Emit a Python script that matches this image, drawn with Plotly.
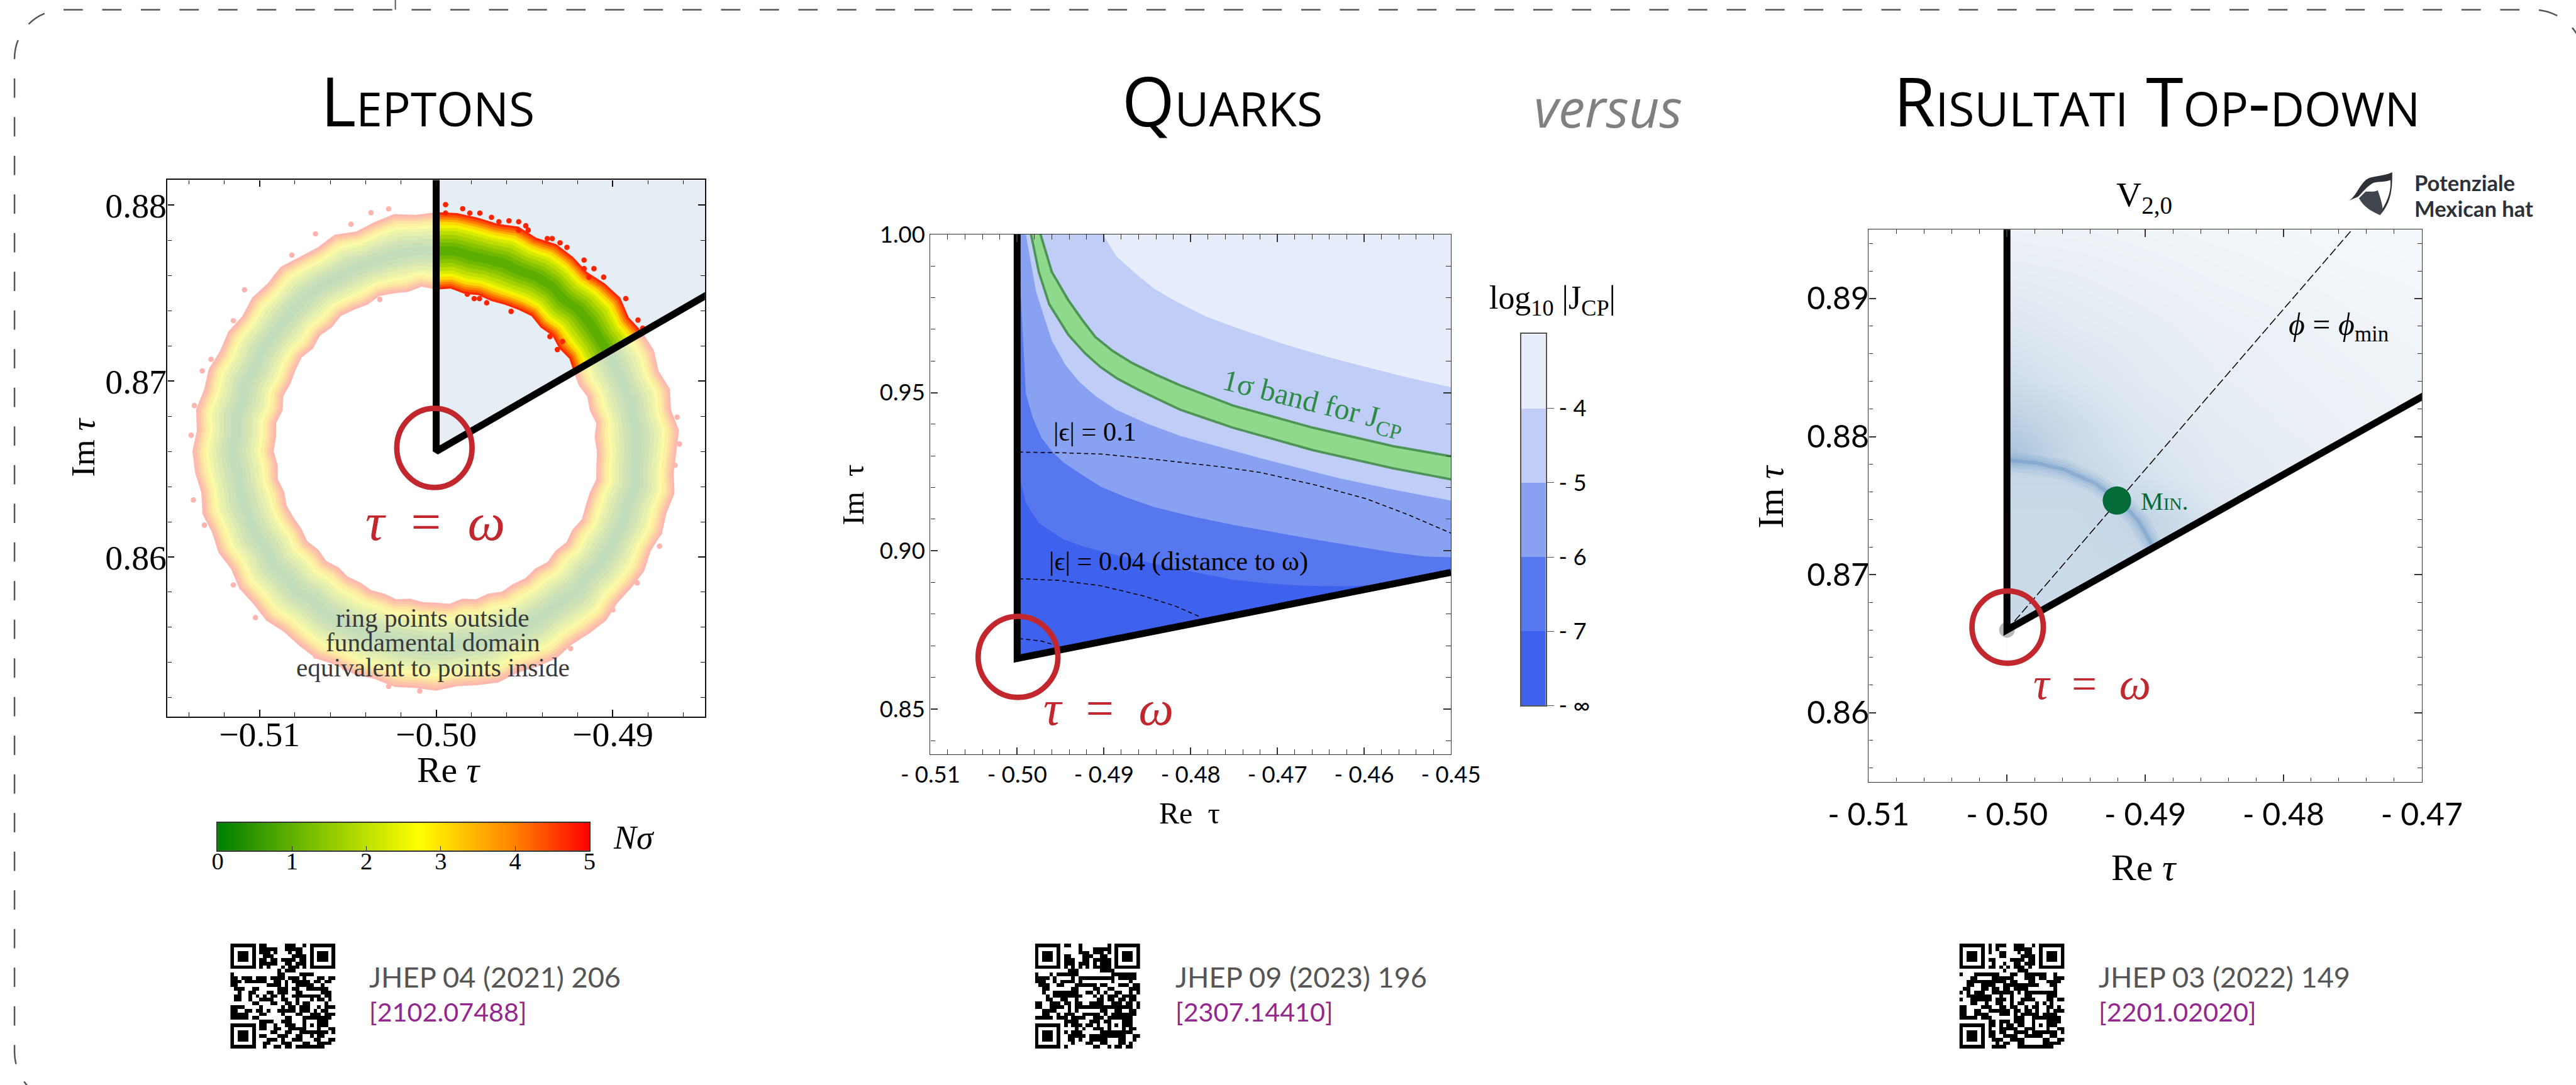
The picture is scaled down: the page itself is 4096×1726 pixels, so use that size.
import math
import plotly.graph_objects as go

S = 0.961
W0, H0 = 4261, 1796

# ---------- data: panel 1 (Leptons) ----------
OMEGA = (-0.5, 0.866)
P1_XTICKS = [-0.51, -0.50, -0.49]
P1_XLABELS = ["\u22120.51", "\u22120.50", "\u22120.49"]
P1_YTICKS = [0.86, 0.87, 0.88]
P1_YLABELS = ["0.86", "0.87", "0.88"]
RING_ANGLES = list(range(0, 360, 5))
RING_OUTER = [.0136,.0138,.0135,.0137,.0134,.0136,.0135,.0133,.0136,.0135,.0133,.0135,
              .0136,.0134,.0136,.0134,.0135,.0136,.0136,.0135,.0137,.0135,.0133,.0136,
              .0134,.0135,.0137,.0135,.0136,.0134,.0136,.0135,.0137,.0136,.0138,.0136,
              .0138,.0137,.0135,.0137,.0135,.0136,.0134,.0136,.0135,.0136,.0134,.0135,
              .0136,.0134,.0135,.0134,.0136,.0135,.0136,.0134,.0135,.0136,.0134,.0135,
              .0136,.0134,.0135,.0136,.0134,.0135,.0136,.0134,.0136,.0135,.0137,.0135]
RING_INNER = [.0091,.0090,.0092,.0090,.0091,.0089,.0090,.0092,.0091,.0093,.0092,.0094,
              .0093,.0092,.0091,.0092,.0091,.0093,.0092,.0094,.0092,.0093,.0094,.0092,
              .0093,.0094,.0092,.0093,.0091,.0093,.0092,.0091,.0092,.0090,.0092,.0091,
              .0092,.0090,.0091,.0089,.0090,.0089,.0088,.0089,.0087,.0088,.0086,.0087,
              .0086,.0087,.0086,.0087,.0085,.0086,.0086,.0087,.0085,.0087,.0086,.0088,
              .0087,.0088,.0087,.0089,.0088,.0090,.0089,.0091,.0090,.0090,.0092,.0091]
RING_LEVELS = [1.0, .94, .88, .82, .76, .68, .60, .52, .42, .32, .22, .12]
STRAY_X_IN = [-.49947,-.4985,-.4981,-.49947,-.49753,-.49687,-.49645,-.49588,-.49533,-.49493,-.49533,
              -.49479,-.49371,-.49343,-.49299,-.4926,-.49163,-.49163,-.49107,-.49135,-.49052,-.48927,
              -.48858,-.48831,-.49824,-.49785,-.49755,-.49714,-.49576,-.49314,-.49285,-.49356]
STRAY_Y_IN = [.88003,.8798,.87955,.87955,.87955,.87931,.87906,.87911,.87906,.87883,.87858,
              .87858,.8781,.8781,.87786,.8776,.87688,.87639,.87639,.87591,.87591,.87469,
              .87347,.87301,.87494,.87469,.87469,.87445,.87396,.87179,.87225,.87253]
STRAY_X_OUT = [-.51374,-.51387,-.51369,-.51324,-.51274,-.51148,-.51085,-.50817,-.50683,-.50482,-.50369,
               -.50269,-.48623,-.48648,-.48636,-.48736,-.48736,-.48862,-.49,-.49239,-.50093,-.50269,
               -.5052,-.50683,-.51023,-.51148,-.51312,-.50696,-.50495,-.50319,-.50696,-.50859,-.50935,
               -.50947,-.49126,-.49075,-.49289,-.4954,-.50357]
STRAY_Y_OUT = [.86324,.86692,.86861,.87058,.87124,.87343,.87519,.87716,.87837,.87892,.87957,
               .87979,.86642,.86521,.86795,.86137,.86061,.85852,.85699,.85479,.85238,.85264,
               .8537,.85436,.85655,.85841,.86181,.86006,.85863,.87464,.87365,.87014,.8662,
               .86444,.86324,.866,.8594,.85819,.85754]
NSIGMA_TICKS = [0, 1, 2, 3, 4, 5]
NSIGMA_VALUES = [0, .25, .5, .75, 1, 1.25, 1.5, 1.75, 2, 2.25, 2.5, 2.75, 3, 3.25, 3.5, 3.75, 4, 4.25, 4.5, 4.75, 5]

# ---------- data: panel 2 (Quarks) ----------
P2_XTICKS = [-0.51, -0.50, -0.49, -0.48, -0.47, -0.46, -0.45]
P2_XLABELS = ["- 0.51", "- 0.50", "- 0.49", "- 0.48", "- 0.47", "- 0.46", "- 0.45"]
P2_YTICKS = [0.85, 0.90, 0.95, 1.00]
P2_YLABELS = ["0.85", "0.90", "0.95", "1.00"]
C1_X = [-.4901,-.4886,-.4865,-.4843,-.4815,-.4782,-.4740,-.4690,-.4645,-.4598,-.4550,-.45]
C1_Y = [1.0,.9932,.9880,.9830,.9785,.9740,.9698,.9651,.9615,.9581,.9548,.9517]
C2_X = [-.4990,-.4978,-.4960,-.4945,-.4929,-.4910,-.4886,-.4850,-.4812,-.4720,-.4628,-.4565,-.45]
C2_Y = [1.0,.9817,.9664,.9590,.9536,.9490,.9446,.9402,.9363,.9293,.9229,.9193,.9159]
C3_X = [-.4998,-.4996,-.4990,-.4982,-.4972,-.4960,-.4947,-.4925,-.4904,-.4875,-.4843,-.4800,-.4751,-.4659,-.4567,-.4530,-.45]
C3_Y = [1.0,.9817,.9497,.9420,.9357,.9315,.9280,.9240,.9203,.9170,.9139,.9110,.9082,.9037,.8995,.8982,.8980]
C4_X = [-.4998,-.4990,-.4975,-.4960,-.4947,-.4925,-.4904,-.4875,-.4843,-.4800,-.4751,-.4710,-.4671,-.4620,-.4560]
C4_Y = [.9242,.9152,.9088,.9060,.9037,.9015,.8999,.8980,.8960,.8935,.8909,.8897,.8890,.8888,.8898]
GREEN_UP_X = [-.4973,-.4960,-.4941,-.4925,-.4910,-.4890,-.4867,-.4840,-.4812,-.4780,-.4751,-.4659,-.4567,-.45]
GREEN_UP_Y = [1.0,.9881,.9792,.9730,.9676,.9632,.9593,.9557,.9523,.9490,.9459,.9389,.9331,.9299]
GREEN_LO_X = [-.4984,-.4975,-.4963,-.4941,-.4922,-.4904,-.4885,-.4861,-.4835,-.4812,-.4780,-.4751,-.4659,-.4567,-.45]
GREEN_LO_Y = [1.0,.9881,.9779,.9683,.9625,.9581,.9545,.9510,.9476,.9446,.9416,.9389,.9318,.9261,.9226]
EPS1_X = [-.4998,-.4950,-.4904,-.4858,-.4812,-.4766,-.4720,-.4659,-.4598,-.4549,-.45]
EPS1_Y = [.9312,.9310,.9306,.9294,.9280,.9266,.9248,.9210,.9165,.9114,.9056]
EPS2_X = [-.4998,-.4953,-.4904,-.4855,-.4818,-.4788]
EPS2_Y = [.8912,.8907,.8890,.8858,.8826,.8790]
EPS3_X = [-.4998,-.4972,-.4960]
EPS3_Y = [.8723,.8715,.8705]
P2_LINE_END = (-0.45, 0.8932)
JCP_LEVELS = [-7.5, -6.5, -5.5, -4.5, -3.5]
JCP_TICKS = [-8, -7, -6, -5, -4]
JCP_LABELS = ["- \u221e", "- 7", "- 6", "- 5", "- 4"]

# ---------- data: panel 3 (Top-down) ----------
P3_XTICKS = [-0.51, -0.50, -0.49, -0.48, -0.47]
P3_XLABELS = ["- 0.51", "- 0.50", "- 0.49", "- 0.48", "- 0.47"]
P3_YTICKS = [0.86, 0.87, 0.88, 0.89]
P3_YLABELS = ["0.86", "0.87", "0.88", "0.89"]
V_X = [-.5, -.495, -.49, -.485, -.48, -.475, -.47]
V_Y = [.866, .870, .874, .877, .879, .881, .884, .888, .892, .895]
V_Z = [[.50,.45,.40,.30,.20,.15,.10],
       [.45,.45,.45,.35,.25,.20,.12],
       [.45,.45,.55,.30,.20,.15,.12],
       [.50,.50,.35,.22,.17,.14,.10],
       [.85,.45,.30,.20,.16,.12,.10],
       [.65,.42,.26,.18,.14,.11,.09],
       [.42,.30,.20,.15,.12,.10,.07],
       [.27,.20,.16,.12,.10,.07,.05],
       [.16,.14,.11,.08,.06,.04,.03],
       [.10,.09,.07,.05,.04,.02,.01]]
ARC_X = [-.5,-.4979,-.4958,-.4936,-.4918,-.4905,-.4897,-.4893]
ARC_Y = [.8783,.8781,.8776,.8766,.8753,.8739,.8725,.8718]
PHI_END = (-.47504, .895)
MIN_POINT = (-.49205, .87537)
P3_LINE_END = (-.4698, .8830)

# ---------- data: QR codes ----------
QR1 = ["11111110110000011100101111111","10000010111110011111001000001","10111010111010001011001011101",
"10111010011100000111101011101","10111010110110111101101011101","10000010111110011011101000001",
"11111110101000101110101111111","00000000000001011100000000000","10000000000001100001111000000",
"11011101110111101110100011011","11101111110011010111110110110","11000000001111010011111001000",
"01110011000001110110011111100","00100110001101110011000001110","01100101010110100111111110110",
"01100100111100110010001011010","00000011000110011010110000100","11110000100000101101110010111",
"11001101101001111101110101100","11111000110000100011001110111","11111011000000011000111111110",
"00000000111100111000100011100","11111110110010011100101011100","10000010110011001111100010011",
"10111010000110011001111111101","10111010110001110011001011000","10111010001110100111000110011",
"10000010011000111000110011110","11111110010011011011111111000"]
QR2 = ["11111110110010000000101111111","10000010000010001111101000001","10111010000011101110101011101",
"10111010110001110011001011101","10111010111001101111101011101","10000010111011101011101000001",
"11111110101010101111101111111","00000000011100000011110000000","10001011111100000000011111110",
"11110100001011111111110111110","11100101111010000000010000100","01110011000111111011000111011",
"00110000001100001100110000111","00100111111100110101001100101","00010111111110001010111011110",
"00011001100100000110110110110","11001110110110011110011101101","11001111010111111111111111101",
"00111100010100000011001100110","00110010111001111101011111110","11111011101111001110111111100",
"00000000111100011101100011100","11111110101110110100101011100","10000010000101001110100010110",
"10111010101110000011111111100","10111010011111011111111110011","10111010011010011111000110010",
"10000010001000110011000110100","11111110100000001100101101100"]
QR3 = ["11111110101110011100101111111","10000010101000011111001000001","10111010100110001011001011101",
"10111010000110000111101011101","10111010110000111101101011101","10000010010010011011101000001",
"11111110110101011101001111111","00000000000010001110000000000","10001111111000110011111100100",
"00011000011111100011101100111","00111111111110110001100011110","00110011110011111111110001100",
"01100011011011011110000000100","10101110011111101011111111100","00111111100100100011000011100",
"10011111101110100111100011011","00011001001100101100010101000","11000011100110110010110011010",
"11001100111111011011010010111","11001111000111010111110111100","11111011100000011100111111110",
"00000000110111011100100011110","11111110110101101100101011100","10000010100111110011100010011",
"10111010110110011110111111101","10111010110011110011111001100","10111010011100111100000110011",
"10000010001011001100000111110","11111110011110001111111111000"]

# ---------- styling ----------
RED = "#c1272d"
SERIF = "Liberation Serif"
SANS = "Lato"
TITLE_FONT = "Open Sans"
OUT_COLORS = ["#fdb9ae", "#fdc4ab", "#fdd3a6", "#fde3a2", "#fcf0a3", "#fbfaa8", "#f1f5aa", "#e5efae", "#dbe9b2", "#d2e4b5", "#cbe0b8", "#c3dcba"]
IN_COLORS = ["#ff2a00", "#ff5400", "#ff8000", "#ffaa00", "#ffd800", "#f4f400", "#d8ea00", "#bede00", "#a2d000", "#88c400", "#72b800", "#5cae00"]
JCP_COLORS = ["#3e62ed", "#5677ee", "#88a1f1", "#bfcdf7", "#e8edfb"]
INK = "#3a3a3a"
THICK = 11.5


def px(v):
    return v * S


def fx(x):
    return x / W0


def fy(y):
    return 1 - y / H0


fig = go.Figure()
annotations = []
shapes = []


def note(text, x, y, size, color="#000000", family=SERIF, angle=0, xanchor="center", yanchor="middle", **font):
    annotations.append(dict(text=text, x=fx(x), y=fy(y), xref="paper", yref="paper", showarrow=False,
                            xanchor=xanchor, yanchor=yanchor, textangle=angle, align="left",
                            borderpad=0, font=dict(size=px(size), color=color, family=family, **font)))


def box_axes(n, left, right, top, bottom, xr, yr, xt, xl, yt, yl, minor_x, minor_y, font, size, lw, lc, mj, mn,
             xoff=0, yoff=0):
    tf = dict(size=px(size), family=font, color="#000000")
    common = dict(showgrid=False, zeroline=False, showline=True, linewidth=px(lw), linecolor=lc, automargin=False,
                  mirror="allticks", ticks="inside", ticklen=px(mj), tickwidth=px(1.6), tickcolor=lc,
                  tickfont=tf, tickmode="array")
    fig.layout["xaxis" + n] = dict(common, domain=[fx(left), fx(right)], range=xr, anchor="y" + n,
                                   tickvals=xt, ticktext=xl, ticklabelstandoff=int(round(px(xoff))),
                                   minor=dict(ticks="inside", ticklen=px(mn), tickwidth=px(1.2), tickcolor=lc,
                                              tick0=-0.5, dtick=minor_x, showgrid=False))
    fig.layout["yaxis" + n] = dict(common, domain=[fy(bottom), fy(top)], range=yr, anchor="x" + n,
                                   tickvals=yt, ticktext=yl, ticklabelstandoff=int(round(px(yoff))),
                                   minor=dict(ticks="inside", ticklen=px(mn), tickwidth=px(1.2), tickcolor=lc,
                                              tick0=0.86, dtick=minor_y, showgrid=False))


def plain_axes(n, left, right, top, bottom, xr, yr):
    off = dict(visible=False, showgrid=False, zeroline=False, automargin=False)
    fig.layout["xaxis" + n] = dict(off, domain=[fx(left), fx(right)], range=xr, anchor="y" + n)
    fig.layout["yaxis" + n] = dict(off, domain=[fy(bottom), fy(top)], range=yr, anchor="x" + n)


def poly(xs, ys, color, n, line=None, clip=True):
    fig.add_trace(go.Scatter(x=xs, y=ys, mode="lines", fill="toself", fillcolor=color,
                             line=line or dict(width=0, color=color), xaxis="x" + n, yaxis="y" + n,
                             showlegend=False, hoverinfo="skip", cliponaxis=clip))


def line(xs, ys, n, color="#000000", width=10, dash=None, clip=True, opacity=1.0):
    fig.add_trace(go.Scatter(x=xs, y=ys, mode="lines", opacity=opacity,
                             line=dict(color=color, width=px(width), dash=dash), xaxis="x" + n, yaxis="y" + n,
                             showlegend=False, hoverinfo="skip", cliponaxis=clip))


def ring_poly(level, angles, outer, inner):
    rc = [(a + b) / 2 for a, b in zip(outer, inner)]
    ro = [c + level * (a - c) for a, c in zip(outer, rc)]
    ri = [c - level * (a - c) for a, c in zip(outer, rc)]
    xs = [OMEGA[0] + r * math.cos(math.radians(t)) for r, t in zip(ro, angles)]
    ys = [OMEGA[1] + r * math.sin(math.radians(t)) for r, t in zip(ro, angles)]
    xs += [OMEGA[0] + r * math.cos(math.radians(t)) for r, t in zip(ri[::-1], angles[::-1])]
    ys += [OMEGA[1] + r * math.sin(math.radians(t)) for r, t in zip(ri[::-1], angles[::-1])]
    return xs, ys


def red_circle(n, cx, cy, rx, ry, width):
    shapes.append(dict(type="circle", xref="x" + n, yref="y" + n, x0=cx - rx, x1=cx + rx, y0=cy - ry, y1=cy + ry,
                       line=dict(color=RED, width=px(width)), layer="above"))


# ---------- panel 1 ----------
box_axes("", 277, 1166, 298, 1186, [-0.51521, -0.48479], [0.85093, 0.88143],
         P1_XTICKS, P1_XLABELS, P1_YTICKS, P1_YLABELS, 0.002, 0.002, SERIF, 58, 2.6, "#111111", 11, 7,
         xoff=-23, yoff=-13)
poly([OMEGA[0], -0.5, -0.48479, -0.48479], [OMEGA[1], 0.88143, 0.88143, 0.87496], "#e6eef5", "")
angles_full = RING_ANGLES + [360]
outer_full = RING_OUTER + RING_OUTER[:1]
inner_full = RING_INNER + RING_INNER[:1]
fig.add_trace(go.Scatter(x=STRAY_X_OUT, y=STRAY_Y_OUT, mode="markers", showlegend=False, hoverinfo="skip",
                         marker=dict(size=px(9), color="#fdb5ae", line=dict(width=0))))
for lev, col in zip(RING_LEVELS, OUT_COLORS):
    xs, ys = ring_poly(lev, angles_full, outer_full, inner_full)
    poly(xs, ys, col, "")
i0, i1 = RING_ANGLES.index(30), RING_ANGLES.index(90)
for lev, col in zip(RING_LEVELS, IN_COLORS):
    xs, ys = ring_poly(lev, RING_ANGLES[i0:i1 + 1], RING_OUTER[i0:i1 + 1], RING_INNER[i0:i1 + 1])
    poly(xs, ys, col, "")
fig.add_trace(go.Scatter(x=STRAY_X_IN, y=STRAY_Y_IN, mode="markers", showlegend=False, hoverinfo="skip",
                         marker=dict(size=px(9), color="#ff2400", line=dict(width=0))))
line([-0.5, OMEGA[0], -0.48457], [0.8815, OMEGA[1], 0.87496], "", width=THICK, clip=False)
red_circle("", -0.5001, 0.8662, 0.00213, 0.00225, 9)
note("<i>\u03c4</i>  =  <i>\u03c9</i>", 720, 864, 88, RED)
note("ring points outside", 716, 1023, 43, INK)
note("fundamental domain", 716, 1063, 43, INK)
note("equivalent to points inside", 716, 1105, 43, INK)
note("Im<i> \u03c4</i>", 137, 741, 56, angle=-90)
note("Re<i> \u03c4</i>", 742, 1274, 60)
note("<i>N\u03c3</i>", 1013, 1386, 56, xanchor="left")

# N-sigma bar
fig.layout["xaxis4"] = dict(domain=[fx(360), fx(975)], range=[0, 5], anchor="y4", showgrid=False, zeroline=False,
                            showline=True, mirror=True, linewidth=px(2), linecolor="#333333", ticks="inside",
                            ticklen=px(7), tickwidth=px(1.5), tickcolor="#333333", tickmode="array", automargin=False,
                            tickvals=NSIGMA_TICKS, ticktext=[str(v) for v in NSIGMA_TICKS], ticklabelstandoff=-18,
                            tickfont=dict(size=px(40), family=SERIF, color="#000000"))
fig.layout["yaxis4"] = dict(domain=[fy(1408), fy(1362)], range=[0, 1], anchor="x4", showgrid=False, zeroline=False,
                            showline=True, mirror=True, linewidth=px(2), linecolor="#333333", showticklabels=False,
                            ticks="", automargin=False)
fig.add_trace(go.Heatmap(x=NSIGMA_VALUES, y=[0.5], z=[NSIGMA_VALUES], xaxis="x4", yaxis="y4", zmin=0, zmax=5,
                         showscale=False, hoverinfo="skip", zsmooth="best",
                         colorscale=[[0, "#007f00"], [.25, "#79bf00"], [.54, "#ffff00"], [.8, "#ff8000"], [1, "#ff0000"]]))

# ---------- panel 2 ----------
box_axes("2", 1539, 2400, 388, 1249, [-0.51, -0.45], [0.83564, 1.0],
         P2_XTICKS, P2_XLABELS, P2_YTICKS, P2_YLABELS, 0.002, 0.01, SANS, 38, 1.5, "#333333", 12, 8)
poly([OMEGA[0], -0.5, -0.45, P2_LINE_END[0]], [OMEGA[1], 1.0, 1.0, P2_LINE_END[1]], JCP_COLORS[4], "2")
poly([-0.5] + C1_X + [P2_LINE_END[0], OMEGA[0]], [1.0] + C1_Y + [P2_LINE_END[1], OMEGA[1]], JCP_COLORS[3], "2")
poly([-0.5] + C2_X + [P2_LINE_END[0], OMEGA[0]], [1.0] + C2_Y + [P2_LINE_END[1], OMEGA[1]], JCP_COLORS[2], "2")
poly([-0.5] + C3_X + [P2_LINE_END[0], OMEGA[0]], [1.0] + C3_Y + [P2_LINE_END[1], OMEGA[1]], JCP_COLORS[1], "2")
poly([-0.5] + C4_X + [OMEGA[0]], [C4_Y[0]] + C4_Y + [OMEGA[1]], JCP_COLORS[0], "2")
poly(GREEN_UP_X + GREEN_LO_X[::-1], GREEN_UP_Y + GREEN_LO_Y[::-1], "#8fd98c", "2")
line(GREEN_UP_X, GREEN_UP_Y, "2", color="#4f9457", width=4)
line(GREEN_LO_X, GREEN_LO_Y, "2", color="#4f9457", width=4)
dashes = "%.1fpx,%.1fpx" % (px(7), px(5))
line(EPS1_X, EPS1_Y, "2", width=1.6, dash=dashes)
line(EPS2_X, EPS2_Y, "2", width=1.6, dash=dashes)
line(EPS3_X, EPS3_Y, "2", width=1.6, dash=dashes)
line([-0.5, OMEGA[0], P2_LINE_END[0]], [1.0005, OMEGA[1], P2_LINE_END[1]], "2", width=THICK, clip=False)
red_circle("2", -0.4999, 0.8665, 0.0046, 0.0128, 9)
note("<i>\u03c4</i>  =  <i>\u03c9</i>", 1833, 1172, 82, RED)
note("1\u03c3 band for J<sub>CP</sub>", 2172, 668, 50, "#2e8b45", angle=14)
note("|\u03f5| = 0.1", 1741, 714, 44, xanchor="left")
note("|\u03f5| = 0.04 (distance to \u03c9)", 1734, 929, 44, xanchor="left")
note("Im  \u03c4", 1411, 819, 50, angle=-90)
note("Re  \u03c4", 1968, 1346, 50)
note("log<sub>10</sub> |J<sub>CP</sub>|", 2568, 497, 54)

# J_CP colour bar
fig.layout["xaxis5"] = dict(domain=[fx(2516), fx(2557)], range=[0, 1], anchor="y5", showgrid=False, zeroline=False,
                            showline=True, mirror=True, linewidth=px(1.6), linecolor="#555555", showticklabels=False,
                            ticks="", automargin=False)
fig.layout["yaxis5"] = dict(domain=[fy(1168), fy(553)], range=[-8, -3], anchor="x5", side="right", showgrid=False,
                            zeroline=False, showline=True, mirror=True, linewidth=px(1.6), linecolor="#555555",
                            ticks="outside", ticklen=px(12), tickwidth=px(1.2), tickcolor="#555555", tickmode="array",
                            tickvals=JCP_TICKS, ticktext=JCP_LABELS, automargin=False,
                            tickfont=dict(size=px(38), family=SANS, color="#000000"))
fig.add_trace(go.Heatmap(x=[0.5], y=JCP_LEVELS, z=[[v] for v in JCP_LEVELS], xaxis="x5", yaxis="y5",
                         showscale=False, hoverinfo="skip", zmin=-8, zmax=-3,
                         colorscale=[[0, JCP_COLORS[0]], [.2, JCP_COLORS[0]], [.2, JCP_COLORS[0]], [.3, JCP_COLORS[0]],
                                     [.3, JCP_COLORS[1]], [.5, JCP_COLORS[1]], [.5, JCP_COLORS[2]], [.7, JCP_COLORS[2]],
                                     [.7, JCP_COLORS[3]], [.9, JCP_COLORS[3]], [.9, JCP_COLORS[4]], [1, JCP_COLORS[4]]]))

# ---------- panel 3 ----------
box_axes("3", 3091, 4006, 380, 1294, [-0.51, -0.47], [0.855, 0.895],
         P3_XTICKS, P3_XLABELS, P3_YTICKS, P3_YLABELS, 0.002, 0.002, SANS, 52, 1.5, "#333333", 12, 7,
         xoff=8, yoff=-13)
fig.add_trace(go.Heatmap(x=V_X, y=V_Y, z=V_Z, xaxis="x3", yaxis="y3", zmin=0, zmax=1, showscale=False,
                         hoverinfo="skip", zsmooth="best",
                         colorscale=[[0, "#f6f9fc"], [.15, "#e8eef5"], [.5, "#c6d7e7"], [1, "#9ebcd9"]]))
for w, a in [(34, .10), (24, .14), (14, .20), (6, .45)]:
    line(ARC_X, ARC_Y, "3", color="#6f9bc9", width=w, opacity=a)
poly([-0.51, -0.5, -0.5, -0.51], [0.855, 0.855, 0.895, 0.895], "#ffffff", "3")
poly([-0.5, -0.47, -0.47, -0.5], [OMEGA[1], P3_LINE_END[1], 0.855, 0.855], "#ffffff", "3")
line([OMEGA[0], PHI_END[0]], [OMEGA[1], PHI_END[1]], "3", width=1.6, dash="%.1fpx,%.1fpx" % (px(14), px(5)))
fig.add_trace(go.Scatter(x=[OMEGA[0]], y=[OMEGA[1]], mode="markers", xaxis="x3", yaxis="y3", showlegend=False,
                         hoverinfo="skip", marker=dict(size=px(26), color="#bbbbbb", line=dict(width=0))))
line([-0.5, OMEGA[0], P3_LINE_END[0]], [0.8952, OMEGA[1], P3_LINE_END[1]], "3", width=THICK, clip=False)
fig.add_trace(go.Scatter(x=[MIN_POINT[0]], y=[MIN_POINT[1]], mode="markers", xaxis="x3", yaxis="y3", showlegend=False,
                         hoverinfo="skip", marker=dict(size=px(47), color="#046a38", line=dict(width=0))))
red_circle("3", -0.49995, 0.8662, 0.00258, 0.00262, 9)
note("<i>\u03c4</i>  =  <i>\u03c9</i>", 3460, 1132, 74, RED)
note("Min.", 3540, 830, 42, "#046a38", xanchor="left", variant="small-caps")
note("<i>\u03d5</i> = <i>\u03d5</i><sub>min</sub>", 3868, 541, 52)
note("V<sub>2,0</sub>", 3547, 326, 58)
note("Im<i> \u03c4</i>", 2929, 822, 60, angle=-90)
note("Re<i> \u03c4</i>", 3547, 1436, 62)
note("Potenziale", 3993, 302, 36, "#2e3038", family=SANS, xanchor="left", weight=700)
note("Mexican hat", 3993, 345, 36, "#2e3038", family=SANS, xanchor="left", weight=700)


def svg(path):
    out = []
    for tok in path.split():
        if tok[0].isalpha():
            out.append(tok)
        else:
            a, b = tok.split(",")
            out.append("%.5f,%.5f" % (fx(float(a)), fy(float(b))))
    return " ".join(out)


# the hat icon: coordinates are reference pixels
shapes.append(dict(type="path", xref="paper", yref="paper", fillcolor="#2e3038", line=dict(width=0),
                   path=svg("M 3883,333 C 3897,327 3900,310 3913,298 C 3923,290 3940,293 3957,285 "
                            "C 3957,310 3957,333 3937,356 L 3940,347 C 3953,327 3955,310 3954,298 "
                            "C 3943,302 3930,300 3925,303 C 3913,310 3907,320 3900,326 Z")))
shapes.append(dict(type="path", xref="paper", yref="paper", fillcolor="#41454d", line=dict(width=0),
                   path=svg("M 3902,328 L 3913,317 C 3920,317 3928,318 3933,315 C 3938,328 3942,343 3941,348 "
                            "L 3937,356 C 3923,350 3910,343 3902,328 Z")))

# ---------- titles ----------
for text, cx in [("Leptons", 707), ("Quarks", 2022), ("Risultati Top-down", 3568)]:
    annotations.append(dict(text=text, x=fx(cx), y=fy(243), xref="paper", yref="paper", showarrow=False,
                            xanchor="center", yanchor="bottom", borderpad=0,
                            font=dict(size=px(112), family=TITLE_FONT, color="#000000", variant="small-caps")))
note("versus", 2660, 177, 88, "#808080", family=TITLE_FONT, style="italic")

# ---------- QR codes and references ----------
for n, qr, left in [("6", QR1, 381), ("7", QR2, 1712), ("8", QR3, 3241)]:
    plain_axes(n, left, left + 174, 1562, 1736, [-0.5, 28.5], [28.5, -0.5])
    z = [[int(c) for c in row] for row in qr]
    fig.add_trace(go.Heatmap(z=z, xaxis="x" + n, yaxis="y" + n, zmin=0, zmax=1, showscale=False, hoverinfo="skip",
                             colorscale=[[0, "#ffffff"], [1, "#000000"]]))
for x, jhep, arxiv in [(610, "JHEP 04 (2021) 206", "[2102.07488]"),
                       (1943, "JHEP 09 (2023) 196", "[2307.14410]"),
                       (3470, "JHEP 03 (2022) 149", "[2201.02020]")]:
    note(jhep, x, 1617, 47, "#555555", family=SANS, xanchor="left")
    note(arxiv, x, 1674, 43, "#93278f", family=SANS, xanchor="left")

# ---------- dashed frame ----------
frame_dash = "%.2fpx,%.2fpx" % (px(32), px(32))
shapes.append(dict(type="path", xref="paper", yref="paper", line=dict(color="#555555", width=px(2.6), dash=frame_dash),
                   path=svg("M 105,16 L 4190,16 C 4237,16 4275,54 4275,101")))
shapes.append(dict(type="path", xref="paper", yref="paper",
                   line=dict(color="#555555", width=px(2.6), dash="0px,%.2fpx,%.2fpx,0px" % (px(32), px(32))),
                   path=svg("M 105,16 C 60,16 24,52 24,97 L 24,1741 C 24,1786 60,1826 109,1826")))
shapes.append(dict(type="line", xref="paper", yref="paper", x0=fx(654), x1=fx(654), y0=fy(0), y1=fy(16),
                   line=dict(color="#555555", width=px(2))))

fig.update_layout(width=4096, height=1726, autosize=False, margin=dict(l=0, r=0, t=0, b=0, autoexpand=False),
                  paper_bgcolor="#ffffff", plot_bgcolor="rgba(0,0,0,0)", showlegend=False,
                  annotations=annotations, shapes=shapes)

fig.write_html("out.html", config={"displayModeBar": False},
               post_script="document.body.style.margin='0';document.body.style.overflow='hidden';")
